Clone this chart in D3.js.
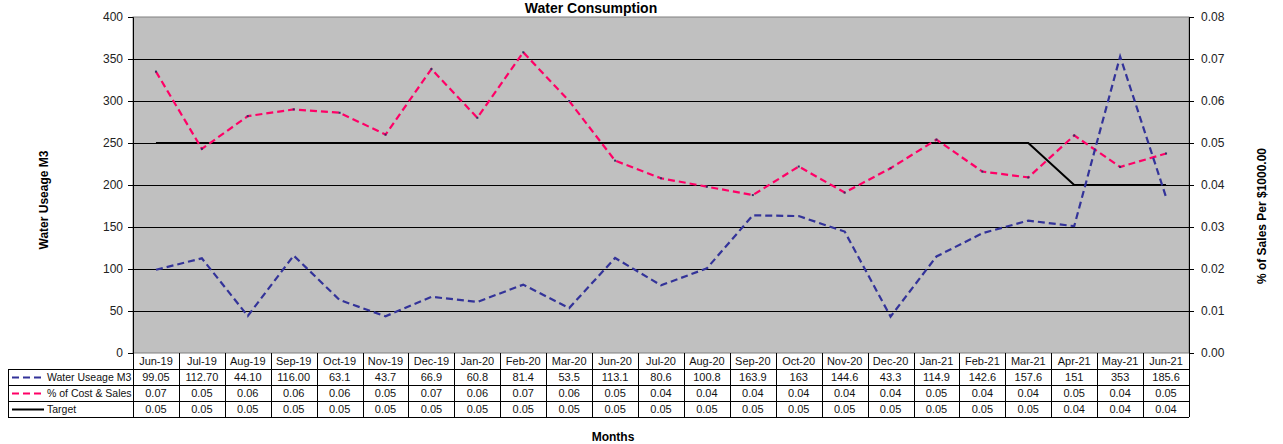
<!DOCTYPE html>
<html>
<head>
<meta charset="utf-8">
<script src="https://cdn.jsdelivr.net/npm/d3@7"></script>
<style>
  body { margin: 0; background: #fff; }
  text { font-family: "Liberation Sans", Arial, sans-serif; }
</style>
</head>
<body>
<div id="chart"></div>
<script>
var months = ["Jun-19","Jul-19","Aug-19","Sep-19","Oct-19","Nov-19","Dec-19","Jan-20","Feb-20","Mar-20",
  "Jun-20","Jul-20","Aug-20","Sep-20","Oct-20","Nov-20","Dec-20","Jan-21","Feb-21","Mar-21","Apr-21","May-21","Jun-21"];
var waterUsage = [99.05,112.70,44.10,116.00,63.1,43.7,66.9,60.8,81.4,53.5,113.1,80.6,100.8,163.9,163,144.6,43.3,114.9,142.6,157.6,151,353,185.6];
var waterLabels = ["99.05","112.70","44.10","116.00","63.1","43.7","66.9","60.8","81.4","53.5","113.1","80.6","100.8","163.9","163","144.6","43.3","114.9","142.6","157.6","151","353","185.6"];
var costSales = [0.067,0.0486,0.0564,0.058,0.0572,0.052,0.0676,0.056,0.0716,0.060,0.0458,0.0416,0.0396,0.0376,0.0444,0.0382,0.044,0.0508,0.0432,0.0418,0.0518,0.0443,0.0475];
var costLabels = ["0.07","0.05","0.06","0.06","0.06","0.05","0.07","0.06","0.07","0.06","0.05","0.04","0.04","0.04","0.04","0.04","0.04","0.05","0.04","0.04","0.05","0.04","0.05"];
var target = [0.05,0.05,0.05,0.05,0.05,0.05,0.05,0.05,0.05,0.05,0.05,0.05,0.05,0.05,0.05,0.05,0.05,0.05,0.05,0.05,0.04,0.04,0.04];
var leftTicks = [0,50,100,150,200,250,300,350,400];
var rightTicks = [0,0.01,0.02,0.03,0.04,0.05,0.06,0.07,0.08];

var W = 1283, H = 444;
var plot = {left: 133, right: 1189, top: 17, bottom: 353};
var rowH = 16;

var svg = d3.select("#chart").append("svg")
  .attr("width", W).attr("height", H);

var x = d3.scaleBand().domain(months).range([plot.left, plot.right]);
var y = d3.scaleLinear().domain([0, 400]).range([plot.bottom, plot.top]);
var y2 = d3.scaleLinear().domain([0, 0.08]).range([plot.bottom, plot.top]);

// plot background
svg.append("rect")
  .attr("x", plot.left).attr("y", plot.top)
  .attr("width", plot.right - plot.left).attr("height", plot.bottom - plot.top)
  .attr("fill", "#c0c0c0")
  .attr("stroke", "#808080").attr("stroke-width", 1);

// gridlines
svg.append("g").selectAll("line")
  .data(leftTicks.filter(d => d > 0 && d < 400))
  .enter().append("line")
  .attr("x1", plot.left).attr("x2", plot.right)
  .attr("y1", d => Math.round(y(d)) + 0.5).attr("y2", d => Math.round(y(d)) + 0.5)
  .attr("stroke", "#000").attr("stroke-width", 1);

// left axis
var gl = svg.append("g").attr("transform", "translate(" + plot.left + ",0)")
  .call(d3.axisLeft(y).tickValues(leftTicks).tickSize(5).tickPadding(5));
gl.select(".domain").attr("stroke", "#000");
gl.selectAll("text").style("font-size", "12px").attr("fill", "#222")
  .style("font-family", "'Liberation Sans', Arial, sans-serif");

// right axis
var gr = svg.append("g").attr("transform", "translate(" + plot.right + ",0)")
  .call(d3.axisRight(y2).tickValues(rightTicks).tickFormat(d3.format(".2f")).tickSize(5).tickPadding(7));
gr.select(".domain").attr("stroke", "#000");
gr.selectAll("text").style("font-size", "12px").attr("fill", "#222")
  .style("font-family", "'Liberation Sans', Arial, sans-serif");

var cx = d => x(d) + x.bandwidth() / 2;

// target line
svg.append("path")
  .datum(target)
  .attr("fill", "none").attr("stroke", "#000").attr("stroke-width", 2)
  .attr("d", d3.line().x((d, i) => cx(months[i])).y(d => y2(d)));

// % of cost & sales
svg.append("path")
  .datum(costSales)
  .attr("fill", "none").attr("stroke", "#ff0066").attr("stroke-width", 2.2)
  .attr("stroke-dasharray", "7,4")
  .attr("d", d3.line().x((d, i) => cx(months[i])).y(d => y2(d)));

// water usage
svg.append("path")
  .datum(waterUsage)
  .attr("fill", "none").attr("stroke", "#333399").attr("stroke-width", 2.2)
  .attr("stroke-dasharray", "7,4")
  .attr("d", d3.line().x((d, i) => cx(months[i])).y(d => y(d)));

// tiny markers
svg.append("g").selectAll("rect")
  .data(costSales).enter().append("rect")
  .attr("x", (d, i) => cx(months[i]) - 1).attr("y", d => y2(d) - 1)
  .attr("width", 2).attr("height", 2).attr("fill", "#333366");

// titles
svg.append("text").attr("x", 591).attr("y", 13).attr("text-anchor", "middle")
  .style("font-size", "14px").style("font-weight", "bold").text("Water Consumption");
svg.append("text").attr("transform", "translate(48,200) rotate(-90)").attr("text-anchor", "middle")
  .style("font-size", "12px").style("font-weight", "bold").text("Water Useage M3");
svg.append("text").attr("transform", "translate(1266,216) rotate(-90)").attr("text-anchor", "middle")
  .style("font-size", "12px").style("font-weight", "bold").text("% of Sales Per $1000.00");
svg.append("text").attr("x", 613).attr("y", 441).attr("text-anchor", "middle")
  .style("font-size", "12px").style("font-weight", "bold").text("Months");

// data table
var table = svg.append("g");
var tTop = plot.bottom;
var legendLeft = 8;
var rows = [
  {name: "Water Useage M3", values: waterLabels, color: "#333399", dash: "7,4"},
  {name: "% of Cost & Sales", values: costLabels, color: "#ff0066", dash: "7,4"},
  {name: "Target", values: target.map(d3.format(".2f")), color: "#000", dash: null}
];

// header row (month names)
table.selectAll(".hdr").data(months).enter().append("text")
  .attr("x", d => cx(d)).attr("y", tTop + 12).attr("text-anchor", "middle")
  .style("font-size", "11px").attr("fill", "#111").text(d => d);

// cell borders
var tableBottom = tTop + rowH * 4;
months.forEach(function(m) {
  table.append("line")
    .attr("x1", Math.round(x(m)) + 0.5).attr("x2", Math.round(x(m)) + 0.5)
    .attr("y1", tTop).attr("y2", tableBottom)
    .attr("stroke", "#000");
});
table.append("line")
  .attr("x1", plot.right + 0.5).attr("x2", plot.right + 0.5)
  .attr("y1", tTop).attr("y2", tableBottom).attr("stroke", "#000");
table.append("line")
  .attr("x1", legendLeft + 0.5).attr("x2", legendLeft + 0.5)
  .attr("y1", tTop + rowH).attr("y2", tableBottom).attr("stroke", "#000");
for (var r = 1; r <= 4; r++) {
  table.append("line")
    .attr("x1", legendLeft).attr("x2", plot.right)
    .attr("y1", tTop + rowH * r + 0.5).attr("y2", tTop + rowH * r + 0.5)
    .attr("stroke", "#000");
}

rows.forEach(function(row, ri) {
  var ry = tTop + rowH * (ri + 1);
  table.append("line")
    .attr("x1", 12).attr("x2", 44)
    .attr("y1", ry + 8.5).attr("y2", ry + 8.5)
    .attr("stroke", row.color).attr("stroke-width", 2)
    .attr("stroke-dasharray", row.dash);
  table.append("text").attr("x", 47).attr("y", ry + 12)
    .style("font-size", "10.5px").attr("fill", "#111").text(row.name);
  table.selectAll(null).data(row.values).enter().append("text")
    .attr("x", (d, i) => cx(months[i])).attr("y", ry + 12).attr("text-anchor", "middle")
    .style("font-size", "11px").attr("fill", "#111").text(d => d);
});
</script>
</body>
</html>
